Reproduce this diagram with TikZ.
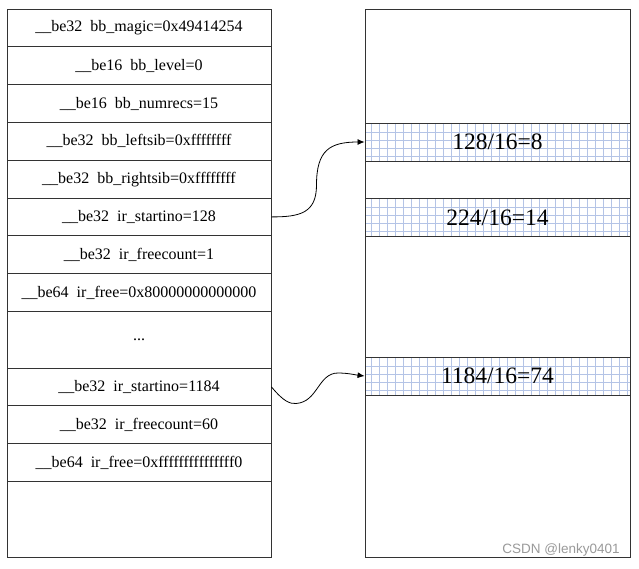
\documentclass[tikz,border=0pt]{standalone}
\usepackage{fontspec}
\setmainfont{Liberation Serif}
\newfontfamily\wmfont{Liberation Sans}
\usetikzlibrary{arrows.meta}
\definecolor{gridblue}{HTML}{B4C4E6}
\definecolor{edge}{HTML}{333333}
\definecolor{wmgray}{HTML}{9A9A9A}
\tikzset{
  cellbox/.style={draw=edge, line width=0.9pt, inner sep=0pt, minimum width=264pt, minimum height=37.8pt, font=\fontsize{16}{18}\selectfont},
  gridbox/.style={draw=edge, line width=0.9pt, inner sep=0pt, minimum width=265pt, minimum height=38pt, font=\fontsize{23.5}{26}\selectfont},
  gridline/.style={draw=gridblue, line width=0.7pt},
  link/.style={draw=black, line width=0.8pt, -{Latex[length=7pt,width=6pt]}}
}
\begin{document}
\begin{tikzpicture}[x=1pt,y=-1pt]
\useasboundingbox (0,0) rectangle (639,568);
\fill[white] (0,0) rectangle (639,568);
% left column
\node[cellbox] (r1) at (139,27.9) {\_\_be32\ \ bb\_magic=0x49414254};
\node[cellbox] (r2) at (139,65.7) {\_\_be16\ \ bb\_level=0};
\node[cellbox] (r3) at (139,103.5) {\_\_be16\ \ bb\_numrecs=15};
\node[cellbox] (r4) at (139,141.3) {\_\_be32\ \ bb\_leftsib=0xffffffff};
\node[cellbox] (r5) at (139,179.1) {\_\_be32\ \ bb\_rightsib=0xffffffff};
\node[cellbox] (r6) at (139,216.9) {\_\_be32\ \ ir\_startino=128};
\node[cellbox] (r7) at (139,254.7) {\_\_be32\ \ ir\_freecount=1};
\node[cellbox] (r8) at (139,292.5) {\_\_be64\ \ ir\_free=0x80000000000000};
\node[cellbox, minimum height=56.6pt] (r9) at (139,339.7) {...};
\node[cellbox] (r10) at (139,386.9) {\_\_be32\ \ ir\_startino=1184};
\node[cellbox] (r11) at (139,424.7) {\_\_be32\ \ ir\_freecount=60};
\node[cellbox] (r12) at (139,462.5) {\_\_be64\ \ ir\_free=0xfffffffffffffff0};
\node[cellbox, minimum height=75.6pt] (r13) at (139,519.2) {};
% right column
\node[draw=edge, line width=0.9pt, inner sep=0pt, minimum width=265pt, minimum height=548pt] (R) at (497.5,283) {};
\foreach \t in {123,198.5,357}{
  \foreach \x in {371,379,...,627} \draw[gridline] (\x,\t) -- (\x,\t+38);
  \foreach \dy in {9,17,25,33} \draw[gridline] (365,\t+\dy) -- (630,\t+\dy);
}
\node[gridbox] (g1) at (497.5,142) {128/16=8};
\node[gridbox] (g2) at (497.5,217.5) {224/16=14};
\node[gridbox] (g3) at (497.5,376) {1184/16=74};
% connectors
\coordinate (m1) at (316.5,185);
\draw[link] (r6.east) .. controls (300,217) and (316.5,213) .. (m1) .. controls (316.5,150) and (330,142) .. (g1.west);
\coordinate (m2) at (296,403.5);
\coordinate (m3) at (338,373);
\draw[link] (r10.east) .. controls (284,402) and (290,403.8) .. (m2) .. controls (318,402) and (318,373) .. (m3) .. controls (348,373) and (356,375) .. (g3.west);
% watermark
\node[font=\wmfont\fontsize{13.5}{15}\selectfont, text=wmgray, inner sep=0pt] (wm) at (561,550) {CSDN @lenky0401};
\end{tikzpicture}
\end{document}
